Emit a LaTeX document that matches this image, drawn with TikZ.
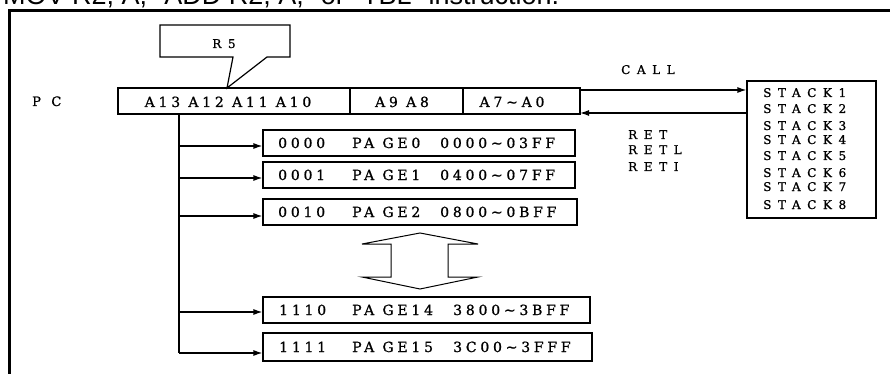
\documentclass[tikz,border=0pt]{standalone}
\usepackage{fontspec}
\setmainfont{DejaVu Serif}
\newfontfamily\widefont[LetterSpace=27,FakeBold=1]{DejaVu Serif}
\newfontfamily\widerfont[LetterSpace=55,FakeBold=1]{DejaVu Serif}
\newfontfamily\pcfont[LetterSpace=80,FakeBold=1]{DejaVu Serif}
\newfontfamily\topfont{Liberation Sans}
\usetikzlibrary{arrows.meta}
\tikzset{
  frameline/.style={line width=2.4pt},
  ln/.style={line width=1.2pt},
  arr/.style={ln, -{Latex[length=9pt,width=6pt]}},
  cell/.style={draw, line width=1.2pt, rectangle, inner sep=0pt},
  pgtext/.style={font=\widefont\fontsize{14}{16}\selectfont, anchor=base west, inner sep=0pt},
  regtext/.style={font=\widefont\fontsize{14}{16}\selectfont, inner sep=0pt},
  stktext/.style={font=\widerfont\fontsize{12}{14}\selectfont, anchor=base west, inner sep=0pt},
}
\begin{document}
\begin{tikzpicture}[x=1pt,y=-1pt]
\fill[white] (0,0) rectangle (890,374);
\useasboundingbox (0,0) rectangle (890,374);
% cut-off heading
\node[anchor=base west, inner sep=0pt, font=\topfont\fontsize{27}{30}\selectfont] (title) at (3,4.5) {MOV R2, A, "ADD R2, A," or "TBL" instruction.};
% frame
\draw[frameline] (9.5,374) -- (9.5,10.5) -- (890,10.5);
% R5 callout
\draw[ln] (233,57) -- (160,57) -- (160,25) -- (290,25) -- (290,57) -- (267,57) -- (227,88) -- cycle;
\node[stktext, anchor=base] (r5) at (224,48) {R5};
% PC register
\node[anchor=base west, inner sep=0pt, font=\pcfont\fontsize{13}{15}\selectfont] (pc) at (32,106) {PC};
\node[cell, minimum width=232pt, minimum height=26pt] (r1) at (234,101) {};
\node[cell, minimum width=113pt, minimum height=26pt] (r2) at (406.5,101) {};
\node[cell, minimum width=117pt, minimum height=26pt] (r3) at (521.5,101) {};
\node[regtext, anchor=base] (r1t) at (228,107) {A13 A12 A11 A10};
\node[regtext, anchor=base] (r2t) at (402,107) {A9 A8};
\node[regtext, anchor=base] (r3t) at (512,107) {A7\char`\~A0};
% page boxes
\node[cell, minimum width=312pt, minimum height=26pt] (p0) at (419,143) {};
\node[cell, minimum width=312pt, minimum height=26pt] (p1) at (419,175) {};
\node[cell, minimum width=314pt, minimum height=26pt] (p2) at (420,212) {};
\node[cell, minimum width=327pt, minimum height=26pt] (p14) at (426.5,310) {};
\node[cell, minimum width=329pt, minimum height=28pt] (p15) at (427.5,347) {};
\node[pgtext] (p0a) at (278,148) {0000};
\node[pgtext] (p0b) at (352,148) {PA GE0};
\node[pgtext] (p0c) at (440,148) {0000\char`\~03FF};
\node[pgtext] (p1a) at (278,180) {0001};
\node[pgtext] (p1b) at (352,180) {PA GE1};
\node[pgtext] (p1c) at (440,180) {0400\char`\~07FF};
\node[pgtext] (p2a) at (278,217) {0010};
\node[pgtext] (p2b) at (352,217) {PA GE2};
\node[pgtext] (p2c) at (440,217) {0800\char`\~0BFF};
\node[pgtext] (p14a) at (279,315) {1110};
\node[pgtext] (p14b) at (352,315) {PA GE14};
\node[pgtext] (p14c) at (453,315) {3800\char`\~3BFF};
\node[pgtext] (p15a) at (279,352) {1111};
\node[pgtext] (p15b) at (352,352) {PA GE15};
\node[pgtext] (p15c) at (453,352) {3C00\char`\~3FFF};
% bus
\coordinate (bustop) at (179,114);
\coordinate (b0) at (179,146);
\coordinate (b1) at (179,178);
\coordinate (b2) at (179,216);
\coordinate (b14) at (179,312);
\coordinate (b15) at (179,353);
\draw[ln] (bustop) -- (b15);
\draw[arr] (b0) -- (b0 -| p0.west);
\draw[arr] (b1) -- (b1 -| p1.west);
\draw[arr] (b2) -- (b2 -| p2.west);
\draw[arr] (b14) -- (b14 -| p14.west);
\draw[arr] (b15) -- (b15 -| p15.west);
% hollow double arrow
\draw[line width=1pt] (420,233) -- (478,244) -- (448,244) -- (448,277) -- (478,277) -- (420,289) -- (362,277) -- (391,277) -- (391,244) -- (362,244) -- cycle;
% stack
\node[cell, minimum width=129pt, minimum height=137pt] (stack) at (811.5,149.5) {};
\node[stktext] (s1) at (763,97) {STACK1};
\node[stktext] (s2) at (763,113) {STACK2};
\node[stktext] (s3) at (763,130) {STACK3};
\node[stktext] (s4) at (763,144) {STACK4};
\node[stktext] (s5) at (763,160) {STACK5};
\node[stktext] (s6) at (763,177) {STACK6};
\node[stktext] (s7) at (763,191) {STACK7};
\node[stktext] (s8) at (763,209) {STACK8};
% call / ret
\coordinate (callstart) at (580,90);
\coordinate (retend) at (580,113);
\draw[arr] (callstart) -- (callstart -| stack.west);
\draw[arr] (stack.west |- retend) -- (retend);
\node[stktext] (call) at (621,74) {CALL};
\node[stktext] (ret) at (628,139) {RET};
\node[stktext] (retl) at (628,154) {RETL};
\node[stktext] (reti) at (628,171) {RETI};
\end{tikzpicture}
\end{document}
